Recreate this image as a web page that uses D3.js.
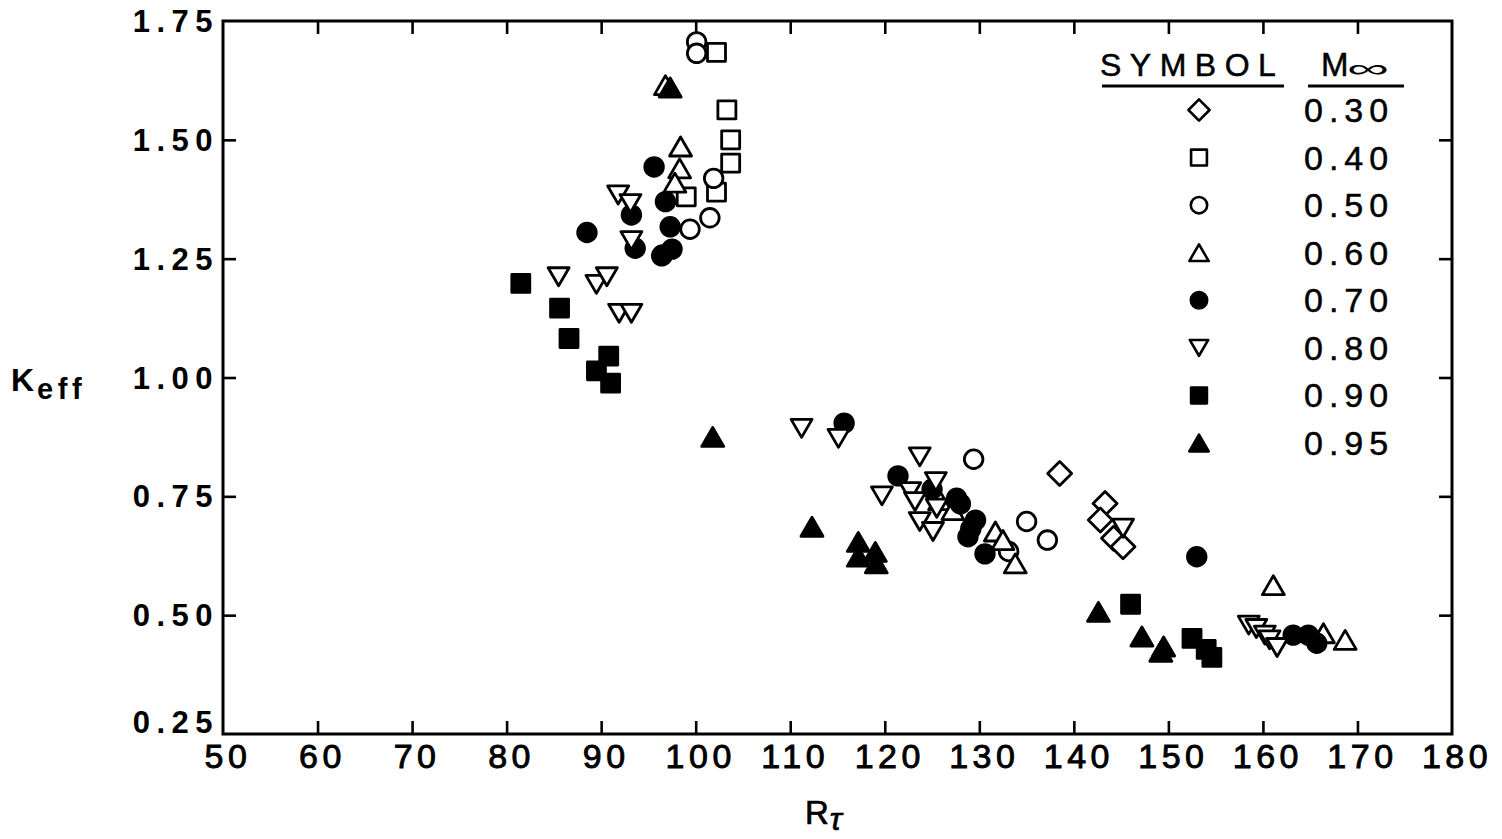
<!DOCTYPE html>
<html>
<head>
<meta charset="utf-8">
<script src="https://cdn.jsdelivr.net/npm/d3@7"></script>
<style>
  html, body { margin: 0; padding: 0; background: #fff; }
  svg { display: block; }
  text { font-family: "Liberation Sans", Arial, Helvetica, sans-serif; fill: #000; }
</style>
</head>
<body>
<svg id="chart" width="1502" height="839"></svg>
<script>
// Effective coefficient K_eff versus R_tau, grouped by free-stream Mach number.
const xTicks = [50, 60, 70, 80, 90, 100, 110, 120, 130, 140, 150, 160, 170, 180];
const yTicks = [0.25, 0.50, 0.75, 1.00, 1.25, 1.50, 1.75];
const machLabels = ["0.30", "0.40", "0.50", "0.60", "0.70", "0.80", "0.90", "0.95"];

// [R_tau, K_eff] pairs for each Mach number
const mach030 = [[138.5, 0.798], [143.3, 0.735], [142.8, 0.700], [144.2, 0.662], [145.2, 0.644]];
const mach040 = [[102.2, 1.684], [103.3, 1.563], [103.7, 1.500], [103.7, 1.451], [102.2, 1.390], [99.0, 1.380]];
const mach050 = [[100.1, 1.706], [100.1, 1.682], [101.9, 1.419], [101.5, 1.336], [99.4, 1.312], [96.5, 1.258],
                 [129.4, 0.828], [135.0, 0.697], [137.2, 0.658], [133.1, 0.634]];
const mach060 = [[96.8, 1.615], [98.4, 1.486], [98.3, 1.440], [97.8, 1.410], [125.8, 0.742], [127.2, 0.721],
                 [131.7, 0.676], [132.5, 0.658], [133.8, 0.609], [161.1, 0.563], [166.4, 0.462], [168.7, 0.448]];
const mach070 = [[95.6, 1.443], [96.8, 1.370], [93.2, 1.342], [97.3, 1.317], [88.5, 1.305], [93.6, 1.272],
                 [97.5, 1.270], [96.4, 1.256], [115.7, 0.904], [121.4, 0.793], [125.0, 0.765], [127.6, 0.746],
                 [128.0, 0.734], [129.6, 0.700], [129.1, 0.682], [128.8, 0.665], [130.6, 0.629], [153.0, 0.623],
                 [163.2, 0.458], [164.8, 0.458], [165.7, 0.441]];
const mach080 = [[91.8, 1.384], [93.1, 1.366], [93.2, 1.288], [85.5, 1.212], [89.5, 1.196], [90.6, 1.212],
                 [91.9, 1.135], [93.2, 1.135], [111.2, 0.893], [115.1, 0.872], [123.7, 0.833], [119.7, 0.751],
                 [122.7, 0.760], [125.4, 0.781], [123.2, 0.739], [125.5, 0.725], [123.7, 0.697], [125.1, 0.676],
                 [145.2, 0.683], [158.5, 0.479], [159.3, 0.472], [160.2, 0.458], [160.7, 0.448], [161.5, 0.432]];
const mach090 = [[81.5, 1.198], [85.6, 1.146], [86.6, 1.082], [90.8, 1.045], [89.5, 1.014], [91.0, 0.988],
                 [146.0, 0.523], [152.5, 0.451], [154.0, 0.428], [154.6, 0.411]];
const mach095 = [[97.3, 1.610], [101.8, 0.875], [112.3, 0.686], [117.2, 0.654], [117.2, 0.623], [119.0, 0.633],
                 [119.1, 0.609], [142.6, 0.507], [147.2, 0.455], [149.5, 0.434], [149.2, 0.423]];

const seriesData = [mach030, mach040, mach050, mach060, mach070, mach080, mach090, mach095];
const seriesShape = ["diamond", "square", "circle", "triUp", "circle", "triDown", "square", "triUp"];
const seriesFilled = [false, false, false, false, true, false, true, true];

const svg = d3.select("#chart");
const plotLeft = 223, plotRight = 1452, plotTop = 21, plotBottom = 734;

const x = d3.scaleLinear().domain([50, 180]).range([plotLeft, plotRight]);
const y = d3.scaleLinear().domain([0.25, 1.75]).range([plotBottom, plotTop]);

// Marker outline generator, centred at the origin
function shapePath(kind, s) {
  switch (kind) {
    case "diamond": {
      const h = 12 * s;
      return `M0,${-h}L${h},0L0,${h}L${-h},0Z`;
    }
    case "square": {
      const h = 9 * s;
      return `M${-h},${-h}H${h}V${h}H${-h}Z`;
    }
    case "circle": {
      const r = 9.3 * s;
      return `M${r},0A${r},${r} 0 1,1 ${-r},0A${r},${r} 0 1,1 ${r},0Z`;
    }
    case "triUp": {
      const w = 11 * s, h = 9.5 * s;
      return `M0,${-h}L${w},${h}L${-w},${h}Z`;
    }
    case "triDown": {
      const w = 10.5 * s, h = 9 * s;
      return `M${-w},${-h}L${w},${-h}L0,${h}Z`;
    }
  }
}

// Frame
svg.append("rect")
  .attr("x", plotLeft).attr("y", plotTop)
  .attr("width", plotRight - plotLeft).attr("height", plotBottom - plotTop)
  .attr("fill", "none").attr("stroke", "#000").attr("stroke-width", 3);

// Inward ticks on all four sides via d3 axes
const tickLen = 13;
const xInner = xTicks.slice(1, -1);
const yInner = yTicks.slice(1, -1);

const axBottom = svg.append("g").attr("transform", `translate(0,${plotBottom})`)
  .call(d3.axisTop(x).tickValues(xInner).tickSize(tickLen).tickFormat(""));
const axTop = svg.append("g").attr("transform", `translate(0,${plotTop})`)
  .call(d3.axisBottom(x).tickValues(xInner).tickSize(tickLen).tickFormat(""));
const axLeft = svg.append("g").attr("transform", `translate(${plotLeft},0)`)
  .call(d3.axisRight(y).tickValues(yInner).tickSize(tickLen).tickFormat(""));
const axRight = svg.append("g").attr("transform", `translate(${plotRight},0)`)
  .call(d3.axisLeft(y).tickValues(yInner).tickSize(tickLen).tickFormat(""));
[axBottom, axTop, axLeft, axRight].forEach(g => {
  g.select(".domain").remove();
  g.selectAll("line").attr("stroke", "#000").attr("stroke-width", 2.6);
});

// X tick labels
svg.append("g").selectAll("text").data(xTicks).join("text")
  .attr("x", d => x(d) + 5)
  .attr("y", 768)
  .attr("text-anchor", "middle")
  .attr("font-size", 34)
  .attr("letter-spacing", 4.5)
  .attr("stroke", "#000").attr("stroke-width", 0.9)
  .text(d => d);

// Y tick labels
svg.append("g").selectAll("text").data(yTicks).join("text")
  .attr("x", 219)
  .attr("y", d => y(d) + 11 - (d === 0.25 ? 12 : 0))
  .attr("text-anchor", "end")
  .attr("font-size", 31)
  .attr("font-weight", "bold")
  .attr("letter-spacing", 6.5)
  .text(d => d.toFixed(2));

// Axis titles
const yTitle = svg.append("text").attr("x", 11).attr("y", 391).attr("font-weight", "bold");
yTitle.append("tspan").attr("font-size", 32).text("K");
yTitle.append("tspan").attr("font-size", 29).attr("dy", 8).attr("dx", 3).attr("letter-spacing", 4.5).text("eff");

const xTitle = svg.append("text").attr("x", 805).attr("y", 824).attr("stroke", "#000").attr("stroke-width", 0.7);
xTitle.append("tspan").attr("font-size", 33).text("R");
xTitle.append("tspan").attr("font-size", 32).attr("dy", 6).attr("dx", 1).attr("font-style", "italic").text("τ");

// Data markers
seriesData.forEach((pts, i) => {
  svg.append("g").selectAll("path").data(pts).join("path")
    .attr("transform", d => `translate(${x(d[0])},${y(d[1])})`)
    .attr("d", shapePath(seriesShape[i], 1))
    .attr("fill", seriesFilled[i] ? "#000" : "#fff")
    .attr("stroke", "#000")
    .attr("stroke-width", 2.8)
    .attr("stroke-linejoin", "round");
});

// Legend
const legend = svg.append("g");
legend.append("text").attr("x", 1100).attr("y", 76)
  .attr("font-size", 32).attr("letter-spacing", 8.5)
  .attr("stroke", "#000").attr("stroke-width", 0.5).text("SYMBOL");
legend.append("text").attr("x", 1321).attr("y", 76).attr("font-size", 33)
  .attr("stroke", "#000").attr("stroke-width", 0.5).text("M");
legend.append("text").attr("x", 1347).attr("y", 77).attr("font-size", 25)
  .attr("textLength", 42).attr("lengthAdjust", "spacingAndGlyphs").text("∞");
legend.append("line").attr("x1", 1102).attr("x2", 1284).attr("y1", 86).attr("y2", 86)
  .attr("stroke", "#000").attr("stroke-width", 3);
legend.append("line").attr("x1", 1308).attr("x2", 1404).attr("y1", 86).attr("y2", 86)
  .attr("stroke", "#000").attr("stroke-width", 3);

const legendY = d3.scalePoint().domain(machLabels).range([110, 443]);
machLabels.forEach((lab, i) => {
  legend.append("path")
    .attr("transform", `translate(1199,${legendY(lab)})`)
    .attr("d", shapePath(seriesShape[i], 0.88))
    .attr("fill", seriesFilled[i] ? "#000" : "#fff")
    .attr("stroke", "#000").attr("stroke-width", 2.6)
    .attr("stroke-linejoin", "round");
  legend.append("text")
    .attr("x", 1304).attr("y", legendY(lab) + 12)
    .attr("font-size", 34).attr("letter-spacing", 6)
    .attr("stroke", "#000").attr("stroke-width", 0.5)
    .text(lab);
});
</script>
</body>
</html>
